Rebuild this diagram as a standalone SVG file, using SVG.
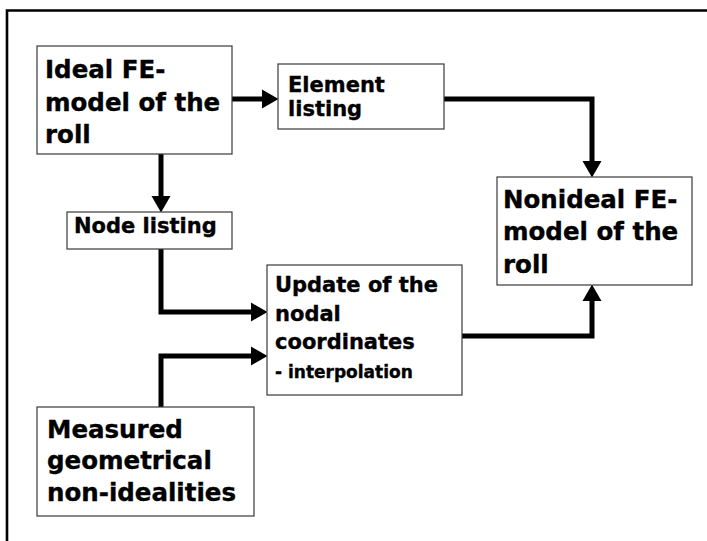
<svg xmlns="http://www.w3.org/2000/svg" width="707" height="541" viewBox="0 0 707 541">
<style>
.box{fill:#fff;stroke:#3a3a3a;stroke-width:1.2}
.t{font-family:"DejaVu Sans","Liberation Sans",sans-serif;font-weight:bold;fill:#000;stroke:#000;stroke-width:0.35}
.big{font-size:24.5px}
.med{font-size:21px}
.sm{font-size:17px}
.conn{fill:none;stroke:#000;stroke-width:5;stroke-linejoin:miter;stroke-linecap:butt;marker-end:url(#ah)}
</style>
<defs>
<marker id="ah" markerUnits="userSpaceOnUse" markerWidth="17" markerHeight="20" refX="0" refY="9.5" orient="auto" overflow="visible">
<path d="M0,0 L16.5,9.5 L0,19 z" fill="#000"/>
</marker>
</defs>
<rect width="707" height="541" fill="#fff"/>
<path d="M7,541 V10.5 H707" fill="none" stroke="#000" stroke-width="2.6"/>
<g id="connectors">
<path class="conn" d="M232,99 H262"/>
<path class="conn" d="M444,99 H592 V161"/>
<path class="conn" d="M161,154 V196"/>
<path class="conn" d="M161,249 V312 H251"/>
<path class="conn" d="M161,407 V356 H251"/>
<path class="conn" d="M462,336 H592 V301"/>
</g>
<g id="ideal">
<rect class="box" x="37" y="46" width="195" height="108"/>
<text class="t big" x="45" y="78">Ideal FE-</text>
<text class="t big" x="45" y="111">model of the</text>
<text class="t big" x="45" y="143">roll</text>
</g>
<g id="element">
<rect class="box" x="278" y="64" width="166" height="65"/>
<text class="t med" x="288" y="92">Element</text>
<text class="t med" x="288" y="116">listing</text>
</g>
<g id="node">
<rect class="box" x="67" y="212" width="165" height="37"/>
<text class="t med" x="74" y="233">Node listing</text>
</g>
<g id="nonideal">
<rect class="box" x="497" y="177" width="195" height="108"/>
<text class="t big" x="503" y="208">Nonideal FE-</text>
<text class="t big" x="503" y="240">model of the</text>
<text class="t big" x="503" y="273">roll</text>
</g>
<g id="update">
<rect class="box" x="267" y="265" width="195" height="130"/>
<text class="t med" x="275" y="292">Update of the</text>
<text class="t med" x="275" y="321">nodal</text>
<text class="t med" x="275" y="349">coordinates</text>
<text class="t sm" x="275" y="378">- interpolation</text>
</g>
<g id="measured">
<rect class="box" x="37" y="407" width="217" height="109"/>
<text class="t big" x="47" y="438">Measured</text>
<text class="t big" x="47" y="469">geometrical</text>
<text class="t big" x="47" y="501">non-idealities</text>
</g>
</svg>
